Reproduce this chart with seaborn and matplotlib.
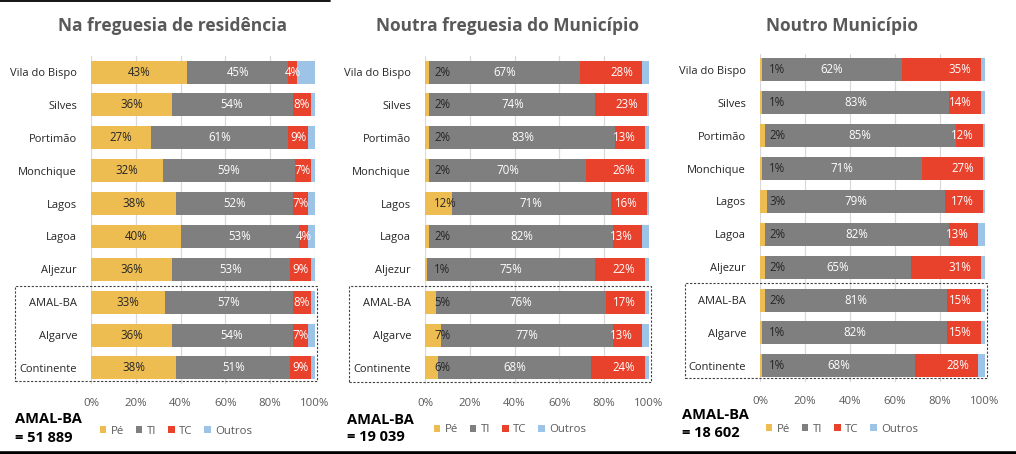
import matplotlib
matplotlib.use("Agg")
import matplotlib.pyplot as plt
import seaborn as sns
import numpy as np
from matplotlib.patches import Patch, Rectangle
from matplotlib.lines import Line2D

# ---------------- data ----------------
categories = ["Vila do Bispo", "Silves", "Portimão", "Monchique", "Lagos",
              "Lagoa", "Aljezur", "AMAL-BA", "Algarve", "Continente"]
series = ["Pé", "TI", "TC", "Outros"]

res_pe = [43, 36, 27, 32, 38, 40, 36, 33, 36, 38]
res_ti = [45, 54, 61, 59, 52, 53, 53, 57, 54, 51]
res_tc = [4, 8, 9, 7, 7, 4, 9, 8, 7, 9]
res_outros = [8, 2, 3, 2, 3, 3, 2, 2, 3, 2]

fre_pe = [2, 2, 2, 2, 12, 2, 1, 5, 7, 6]
fre_ti = [67, 74, 83, 70, 71, 82, 75, 76, 77, 68]
fre_tc = [28, 23, 13, 26, 16, 13, 22, 17, 13, 24]
fre_outros = [3, 1, 2, 2, 1, 3, 2, 2, 3, 2]

mun_pe = [1, 1, 2, 1, 3, 2, 2, 2, 1, 1]
mun_ti = [62, 83, 85, 71, 79, 82, 65, 81, 82, 68]
mun_tc = [35, 14, 12, 27, 17, 13, 31, 15, 15, 28]
mun_outros = [2, 2, 1, 1, 1, 3, 2, 2, 2, 3]

titles = ["Na freguesia de residência", "Noutra freguesia do Município", "Noutro Município"]
totals = ["= 51 889", "= 19 039", "= 18 602"]
x_ticks = [0, 20, 40, 60, 80, 100]

# ---------------- style ----------------
sns.set_style("white")
plt.rcParams["font.family"] = ["Open Sans", "DejaVu Sans"]

colors = ["#EDBD52", "#7F7F7F", "#E8412C", "#9DC3E6"]
GRID = "#D9D9D9"
TXT = "#595959"

W, H = 1016, 454
fig = plt.figure(figsize=(W / 100, H / 100), dpi=100)


def fx(px):
    return px / W


def fy(py):
    return 1 - py / H


panels = [
    dict(data=(res_pe, res_ti, res_tc, res_outros), x0=91, x1=315, top=55.6, bot=384.4,
         title_x=173, tot_x=15, tot_y=(419, 438), leg=(176, 431), box=(15, 317, 286, 381), style="center"),
    dict(data=(fre_pe, fre_ti, fre_tc, fre_outros), x0=425, x1=649, top=55.6, bot=384.4,
         title_x=508, tot_x=347, tot_y=(420, 437), leg=(510, 430), box=(349, 651, 286, 382), style="ends"),
    dict(data=(mun_pe, mun_ti, mun_tc, mun_outros), x0=760, x1=985, top=53.5, bot=382.3,
         title_x=842, tot_x=682, tot_y=(415, 433), leg=(842, 429), box=(685, 987, 283, 378), style="ends"),
]

for k, p in enumerate(panels):
    ax = fig.add_axes([fx(p["x0"]), fy(p["bot"]), fx(p["x1"] - p["x0"]), (p["bot"] - p["top"]) / H])
    pe, ti, tc, ou = [np.array(v, dtype=float) for v in p["data"]]
    c1 = pe
    c2 = c1 + ti
    c3 = c2 + tc
    c4 = c3 + ou
    # stacked bars drawn as overlapping cumulative bars
    for vals, col in [(c4, colors[3]), (c3, colors[2]), (c2, colors[1]), (c1, colors[0])]:
        sns.barplot(x=vals, y=categories, orient="h", color=col, saturation=1,
                    width=0.7, linewidth=0, errorbar=None, ax=ax, zorder=3)

    ax.set_xlim(0, 100)
    ax.set_ylim(9.5, -0.5)
    ax.set_xticks(x_ticks)
    ax.set_xticklabels([f"{t}%" for t in x_ticks])
    ax.set_xlabel("")
    ax.set_ylabel("")
    ax.grid(axis="x", color=GRID, linewidth=0.9, zorder=0)
    ax.grid(axis="y", visible=False)
    ax.set_axisbelow(True)
    for s in ax.spines.values():
        s.set_visible(False)
    ax.tick_params(axis="x", length=0, pad=10, labelsize=8.2, labelcolor=TXT)
    ax.tick_params(axis="y", length=0, pad=10, labelsize=8, labelcolor="#262626")

    fs = 8.3
    for i in range(len(categories)):
        if p["style"] == "center":
            ax.text(c1[i] / 2, i, f"{int(pe[i])}%", ha="center", va="center", fontsize=fs, color="#262626", zorder=5)
        else:
            ax.annotate(f"{int(pe[i])}%", (0, i), xytext=(6.5, 0), textcoords="offset points",
                        ha="left", va="center", fontsize=fs, color="#262626", zorder=5)
        ax.text((c1[i] + c2[i]) / 2, i, f"{int(ti[i])}%", ha="center", va="center", fontsize=fs, color="white", zorder=5)
        if p["style"] == "center":
            ax.text((c2[i] + c3[i]) / 2, i, f"{int(tc[i])}%", ha="center", va="center", fontsize=fs, color="white", zorder=5)
        else:
            ax.annotate(f"{int(tc[i])}%", (c3[i], i), xytext=(-6.5, 0), textcoords="offset points",
                        ha="right", va="center", fontsize=fs, color="white", zorder=5)

    # title
    fig.text(fx(p["title_x"]), fy(26), titles[k], ha="center", va="center",
             fontsize=12.5, fontweight="bold", color=TXT)
    # totals
    fig.text(fx(p["tot_x"]), fy(p["tot_y"][0]), "AMAL-BA", ha="left", va="center",
             fontsize=10.5, fontweight="bold", color="black")
    fig.text(fx(p["tot_x"]), fy(p["tot_y"][1]), totals[k], ha="left", va="center",
             fontsize=10.5, fontweight="bold", color="black")
    # legend
    handles = [Patch(facecolor=c, edgecolor="none") for c in colors]
    fig.legend(handles, series, loc="center", bbox_to_anchor=(fx(p["leg"][0]), fy(p["leg"][1])),
               ncol=4, frameon=False, fontsize=8.2, labelcolor=TXT, handlelength=0.6,
               handleheight=0.6, handletextpad=0.4, columnspacing=1.0, borderpad=0)
    # dashed box around aggregate rows
    bx0, bx1, by0, by1 = p["box"]
    fig.add_artist(Rectangle((fx(bx0), fy(by1)), fx(bx1 - bx0), (by1 - by0) / H,
                             transform=fig.transFigure, fill=False, edgecolor="#404040",
                             linestyle=(0, (2, 1.5)), linewidth=0.8))

# decorative rules
fig.add_artist(Line2D([0, fx(330)], [fy(1.2), fy(1.2)], transform=fig.transFigure, color="black", linewidth=1.3))
fig.add_artist(Line2D([0, 1], [fy(452.5), fy(452.5)], transform=fig.transFigure, color="black", linewidth=2.6))

fig.savefig("out.png", dpi=100)
